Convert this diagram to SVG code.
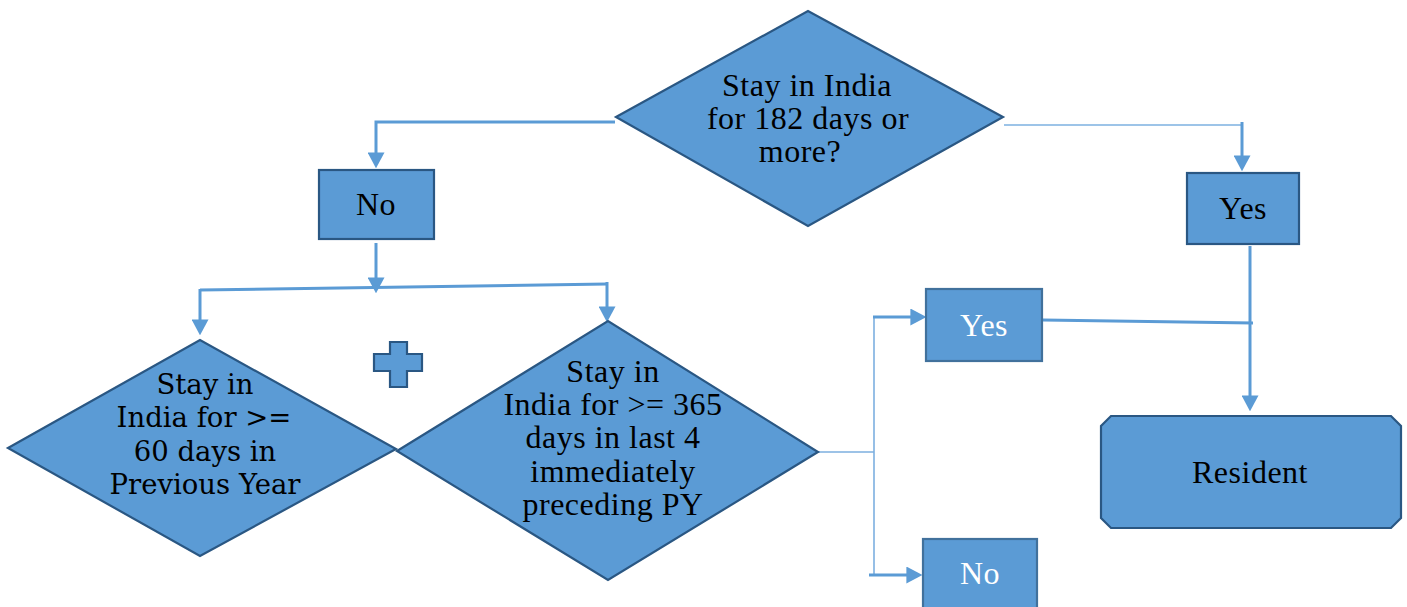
<svg xmlns="http://www.w3.org/2000/svg" width="1407" height="607" viewBox="0 0 1407 607">
<style>
.node{fill:#5B9BD5;stroke:#2A5783;stroke-width:2.2;stroke-linejoin:miter}
.node2{fill:#5B9BD5;stroke:#41719C;stroke-width:2.2}
.t{font-family:"Liberation Serif","DejaVu Serif",serif;font-size:32px;letter-spacing:0.5px;fill:#000;text-anchor:middle}
.tw{fill:#fff}
.td{font-family:"DejaVu Serif","Liberation Serif",serif;font-size:27.5px;fill:#000;text-anchor:middle}
.c{fill:none;stroke:#5B9BD5;stroke-width:3}
.ct{fill:none;stroke:#7DB0E0;stroke-width:1.6}
</style>
<defs>
<marker id="ah" markerUnits="userSpaceOnUse" viewBox="0 0 15 16" refX="10" refY="8" markerWidth="16" markerHeight="17" orient="auto">
<path d="M0,0 L15,8 L0,16 z" fill="#5B9BD5"/>
</marker>
</defs>
<g id="connectors">
<path class="c" d="M615,122 H376 V163" marker-end="url(#ah)"/>
<path class="c" d="M376,243 V288" marker-end="url(#ah)"/>
<path class="c" d="M200,290 L607,284"/>
<path class="c" d="M200,289 V330" marker-end="url(#ah)"/>
<path class="c" d="M607,282 V317" marker-end="url(#ah)"/>
<path class="ct" d="M1004,125 H1242"/>
<path class="c" d="M1242,122 V166" marker-end="url(#ah)"/>
<path class="c" d="M1250,246 V406" marker-end="url(#ah)"/>
<path class="c" d="M1043,320 L1253,323"/>
<path class="ct" d="M818,452 H874 M874,317 V576"/>
<path class="c" d="M873,317 H921" marker-end="url(#ah)"/>
<path class="c" d="M869,575 H917" marker-end="url(#ah)"/>
</g>
<g id="q182">
<polygon class="node" points="616,117 808,11 1003,117 808,226"/>
<text class="t" x="807" y="96">Stay in India</text>
<text class="t" x="808" y="129">for 182 days or</text>
<text class="t" x="800" y="162">more?</text>
</g>
<g id="no1">
<rect class="node" x="319" y="170" width="115" height="69"/>
<text class="t" x="376" y="215">No</text>
</g>
<g id="yes1">
<rect class="node" x="1187" y="173" width="112" height="71"/>
<text class="t" x="1243" y="219">Yes</text>
</g>
<g id="q60">
<polygon class="node" points="8,448 200,340 396,449 200,556"/>
<text class="td" x="205" y="394">Stay in</text>
<text class="td" x="204" y="427">India for &gt;=</text>
<text class="td" x="205" y="461">60 days in</text>
<text class="td" x="205" y="494">Previous Year</text>
</g>
<g id="plus">
<path class="node" d="M390,342 H407 V354 H422 V371 H407 V387 H390 V371 H374 V354 H390 Z"/>
</g>
<g id="q365">
<polygon class="node" points="397,451 608,321 818,452 608,580"/>
<text class="t" x="613" y="382">Stay in</text>
<text class="t" x="613" y="415">India for &gt;= 365</text>
<text class="t" x="613" y="448">days in last 4</text>
<text class="t" x="613" y="482">immediately</text>
<text class="t" x="613" y="515">preceding PY</text>
</g>
<g id="yes2">
<rect class="node2" x="926" y="289" width="116" height="72"/>
<text class="t tw" x="984" y="336">Yes</text>
</g>
<g id="no2">
<rect class="node2" x="923" y="539" width="114" height="80"/>
<text class="t tw" x="980" y="584">No</text>
</g>
<g id="resident">
<path class="node" d="M1111,416 H1391 L1401,426 V518 L1391,528 H1111 L1101,518 V426 Z"/>
<text class="t" x="1250" y="483">Resident</text>
</g>
</svg>
